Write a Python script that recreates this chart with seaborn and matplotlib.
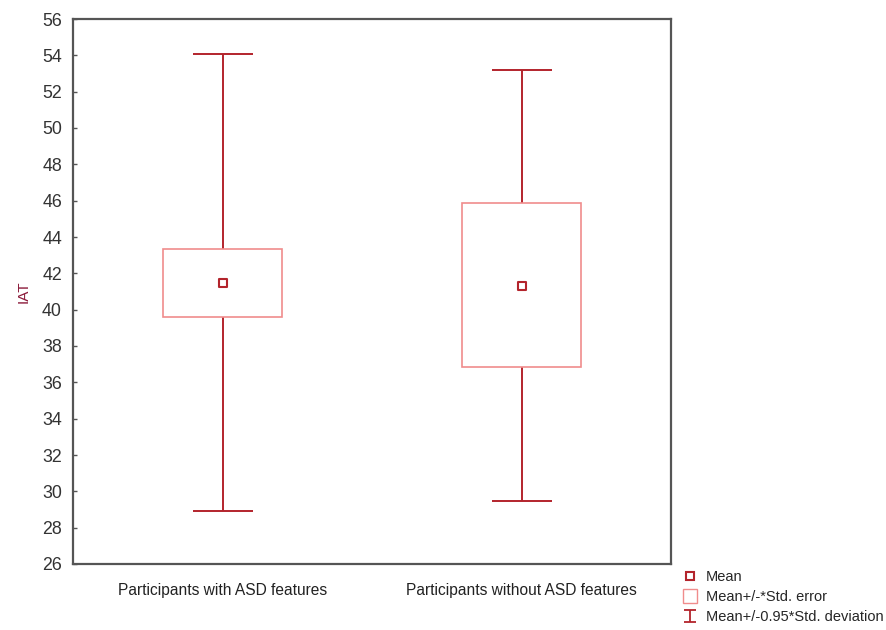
import numpy as np
import pandas as pd
import matplotlib
matplotlib.use("Agg")
import matplotlib.pyplot as plt
from matplotlib.lines import Line2D
from matplotlib.path import Path
import seaborn as sns

categories = ["Participants with ASD features", "Participants without ASD features"]
means = [41.45, 41.30]
se_low = [39.60, 36.83]
se_high = [43.34, 45.87]
sd_low = [28.94, 29.49]
sd_high = [54.07, 53.19]
yticks = list(range(26, 57, 2))

sns.set_theme(style="white")
plt.rcParams['font.family'] = ['Liberation Sans', 'DejaVu Sans']

dark_red = "#b3242c"
pale_red = "#f08c8c"
frame = "#555555"

fig = plt.figure(figsize=(8.86, 6.30), dpi=100)
ax = fig.add_axes([73/886, 1 - 564/630, (671-73)/886, (564-19)/630])

df = pd.DataFrame({"group": categories, "mean": means})
x = np.arange(len(categories))

# whiskers (mean +/- 0.95*SD)
ax.errorbar(x, means,
            yerr=[np.array(means) - np.array(sd_low), np.array(sd_high) - np.array(means)],
            fmt="none", ecolor=dark_red, elinewidth=1.4, capsize=21.5, capthick=1.4, zorder=1)
# boxes (mean +/- SE)
ax.bar(x, np.array(se_high) - np.array(se_low), bottom=se_low, width=0.40,
       facecolor="white", edgecolor=pale_red, linewidth=1.2, zorder=2)
# means
sns.scatterplot(data=df, x=x, y="mean", marker="s", s=40, facecolor="white",
                edgecolor=dark_red, linewidth=1.5, ax=ax, zorder=3, legend=False)

ax.set_xlim(-0.5, 1.5)
ax.set_ylim(26, 56)
ax.set_yticks(yticks)
ax.set_yticklabels([str(v) for v in yticks], fontsize=12.8, color="#333333")
ax.set_xticks(x)
ax.set_xticklabels(categories, fontsize=11.2, color="#222222")
ax.tick_params(axis="y", direction="in", length=3, width=1, color=frame, pad=8, left=True)
ax.tick_params(axis="x", length=0, pad=14)
ax.set_xlabel("")
ax.set_ylabel("IAT", fontsize=11, color="#8b1a3a", labelpad=8)
for s in ax.spines.values():
    s.set_color(frame)
    s.set_linewidth(1.6)

ibeam = Path([(-1, 1), (1, 1), (0, 1), (0, -1), (-1, -1), (1, -1)],
             [Path.MOVETO, Path.LINETO, Path.MOVETO, Path.LINETO, Path.MOVETO, Path.LINETO])
handles = [
    Line2D([], [], linestyle="none", marker="s", markersize=6, markerfacecolor="white",
           markeredgecolor=dark_red, markeredgewidth=1.5),
    Line2D([], [], linestyle="none", marker="s", markersize=10.5, markerfacecolor="white",
           markeredgecolor=pale_red, markeredgewidth=1.0),
    Line2D([], [], linestyle="none", marker=ibeam, markersize=9, markerfacecolor="none",
           markeredgecolor=dark_red, markeredgewidth=1.3),
]
labels = ["Mean", "Mean+/-*Std. error", "Mean+/-0.95*Std. deviation"]
fig.legend(handles, labels, loc="upper left", bbox_to_anchor=(672/886, 1 - 560/630),
           frameon=False, fontsize=10.5, handlelength=1.1, handletextpad=0.5,
           labelspacing=0.4, borderpad=0.2)

fig.savefig("out.png", dpi=100)
